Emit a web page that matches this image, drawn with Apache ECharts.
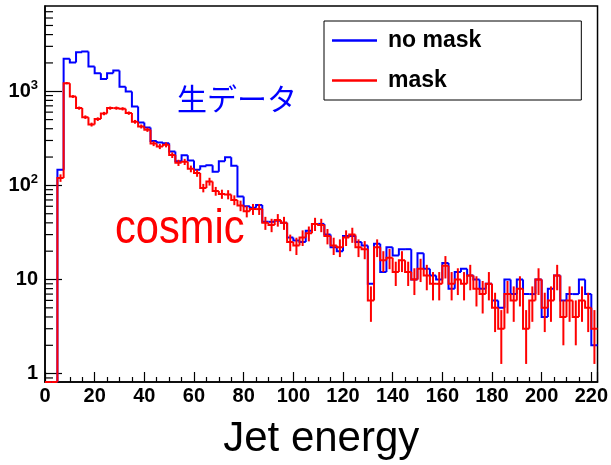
<!DOCTYPE html>
<html><head><meta charset="utf-8">
<script src="https://cdn.jsdelivr.net/npm/echarts@6/dist/echarts.min.js"></script>
<style>html,body{margin:0;padding:0;background:#fff}#c{width:611px;height:465px}</style>
</head><body><div id="c"></div>
<script>
// ---- data ----
const binStart = 0;
const binWidth = 2.5;
const seriesNames = ['no mask', 'mask'];
// counts per 2.5-wide bin, from 0 to 222.5
const noMask = [0,0,147,2220,2015,2600,2640,1830,1556,1353,
  1556,1658,1114,993,689,466,412,296,286,280,
  229,180,209,184,147,160,164,140,180,199,
  162,76,60,58,62,41,41,42,40,28,
  26,25,33,39,39,30,22,20,29,29,
  25,23,9,24,12,22,18,21,21,10,
  19,13,11,10,15,8,12,13,11,10,
  8,9,6,5,10,7,10,7,7,10,
  4,8,11,6,7,7,10,7,2];
const mask = [0,0,120,1220,880,662,531,443,506,580,
  662,662,651,586,474,423,390,278,259,270,
  210,174,178,150,135,94,110,87,81,80,
  70,61,53,56,56,40,38,43,40,25,
  23,28,31,39,38,29,23,22,28,30,
  22,21,6,22,16,17,12,16,12,10,
  13,11,9,9,14,9,10,9,11,8,
  7,9,5,3,7,6,8,3,6,10,
  5,6,11,4,6,4,6,5,3];
const yMinorTicks = [0.9,2,3,4,5,6,7,8,9,20,30,40,50,60,70,80,90,200,300,400,500,600,700,800,900,2000,3000,4000,5000,6000,7000];
const annotationJa = '生データ';
const annotationCosmic = 'cosmic';
const xAxisTitle = 'Jet energy';

// ---- chart ----
const FONT = '"Liberation Sans", Arial, sans-serif';
const chart = echarts.init(document.getElementById('c'), null, {renderer: 'canvas'});

function histData(values) {
  return values.map((v, i) => [binStart + i * binWidth, binStart + (i + 1) * binWidth, v]);
}
function makeHist(values, color, errors) {
  return function (params, api) {
    const cs = params.coordSys;
    const bottom = cs.y + cs.height, top = cs.y;
    const yOf = v => {
      if (!(v > 0)) return bottom;
      const p = api.coord([binStart, v])[1];
      return Math.max(top, Math.min(bottom, p));
    };
    const i = params.dataIndex;
    const x0 = api.coord([api.value(0), 1])[0];
    const x1 = api.coord([api.value(1), 1])[0];
    const v = api.value(2);
    const prev = i > 0 ? values[i - 1] : 0;
    const yc = yOf(v), yp = yOf(prev);
    const children = [{
      type: 'polyline',
      shape: {points: [[x0, yp], [x0, yc], [x1, yc]]},
      style: {stroke: color, lineWidth: 2, fill: 'none', lineJoin: 'miter'}
    }];
    if (errors && v > 0) {
      const e = Math.sqrt(v);
      const xc = (x0 + x1) / 2;
      children.push({type: 'line', shape: {x1: xc, y1: yOf(v - e), x2: xc, y2: yOf(v + e)},
        style: {stroke: color, lineWidth: 2}});
    }
    return {type: 'group', children};
  };
}

const option = {
  animation: false,
  backgroundColor: '#fff',
  grid: {left: 45, right: 9, top: 6, bottom: 82, show: true, borderColor: '#000', borderWidth: 1.5, backgroundColor: 'transparent'},
  xAxis: {
    type: 'value', min: 0, max: 222.5, interval: 20,
    name: xAxisTitle, nameLocation: 'middle', nameGap: 36,
    nameTextStyle: {fontSize: 42, fontFamily: FONT, color: '#000'},
    axisLine: {show: true, lineStyle: {color: '#000', width: 1.5}},
    axisTick: {show: true, inside: true, length: 10, lineStyle: {color: '#000', width: 1.2}},
    minorTick: {show: true, splitNumber: 4, length: 5, lineStyle: {color: '#000', width: 1.2}},
    axisLabel: {fontSize: 20, fontWeight: 'bold', fontFamily: FONT, color: '#000', margin: 4, showMaxLabel: false,
      formatter: v => (Math.abs(v % 20) < 1e-9 ? String(v) : '')},
    splitLine: {show: false}
  },
  yAxis: {
    type: 'log', logBase: 10, min: 0.815, max: 8050, splitNumber: 4,
    axisLine: {show: true, lineStyle: {color: '#000', width: 1.5}},
    axisTick: {show: true, inside: true, length: 17, lineStyle: {color: '#000', width: 1.2}},
    axisLabel: {
      margin: 7, showMinLabel: false, showMaxLabel: false,
      formatter: function (v) {
        const l = Math.log10(v), r = Math.round(l);
        if (Math.abs(l - r) > 1e-6) return '';
        if (r === 0) return '{b|1}';
        if (r === 1) return '{b|10}';
        return '{b|10}{s|' + r + '}';
      },
      rich: {
        b: {fontSize: 20, fontWeight: 'bold', fontFamily: FONT, color: '#000', lineHeight: 24},
        s: {fontSize: 13, fontWeight: 'bold', fontFamily: FONT, color: '#000', verticalAlign: 'top', lineHeight: 14}
      }
    },
    splitLine: {show: false}
  },
  legend: {
    orient: 'vertical', left: 324, top: 21,
    backgroundColor: '#fff', borderColor: '#000', borderWidth: 1,
    padding: [8, 100, 8, 8], itemGap: 17, itemWidth: 45, itemHeight: 2.5,
    selectedMode: false,
    textStyle: {fontSize: 23, fontWeight: 'bold', fontFamily: FONT, color: '#000', padding: [0, 0, 0, 6]},
    data: [{name: seriesNames[0], icon: 'rect'}, {name: seriesNames[1], icon: 'rect'}]
  },
  graphic: [
    {type: 'text', x: 177, y: 99, silent: true,
      style: {text: annotationJa, fill: '#0000ff', font: '30px "Noto Sans CJK JP"', align: 'left', verticalAlign: 'middle', textAlign: 'left', textVerticalAlign: 'middle'}},
    {type: 'text', x: 115, y: 229, scaleX: 0.85, silent: true,
      style: {text: annotationCosmic, fill: '#ff0000', font: '49px "Liberation Sans"', align: 'left', verticalAlign: 'middle', textAlign: 'left', textVerticalAlign: 'middle'}}
  ],
  series: [
    {name: seriesNames[0], type: 'custom', data: histData(noMask), encode: {x: [0, 1], y: 2},
      itemStyle: {color: '#0000ff'}, renderItem: makeHist(noMask, '#0000ff', false), z: 2},
    {name: seriesNames[1], type: 'custom', data: histData(mask), encode: {x: [0, 1], y: 2},
      itemStyle: {color: '#ff0000'}, renderItem: makeHist(mask, '#ff0000', true), z: 3},
    {name: 'minorTicks', type: 'custom', data: yMinorTicks.map(v => [binStart, v]), encode: {x: 0, y: 1},
      silent: true, z: 4,
      renderItem: function (params, api) {
        const cs = params.coordSys;
        const y = api.coord([binStart, api.value(1)])[1];
        return {type: 'line', shape: {x1: cs.x, y1: y, x2: cs.x + 8, y2: y}, style: {stroke: '#000', lineWidth: 1.2}};
      }}
  ]
};
chart.setOption(option);
</script></body></html>
